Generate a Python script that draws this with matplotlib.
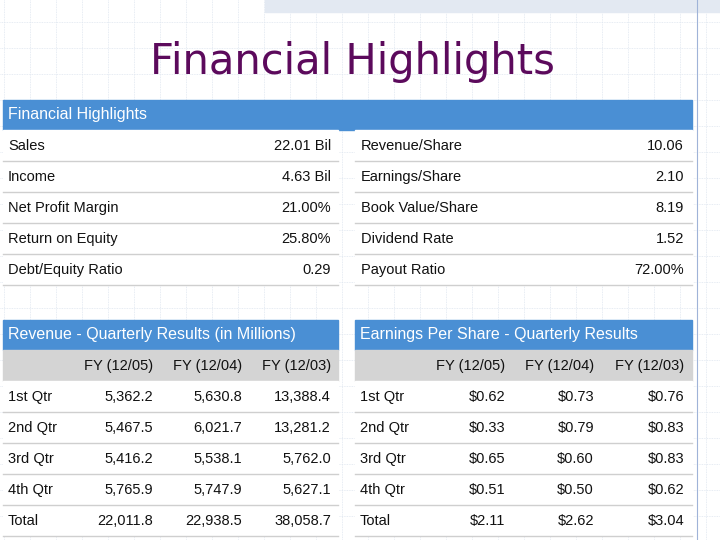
import matplotlib
matplotlib.use("Agg")
import matplotlib.pyplot as plt
from matplotlib.patches import Rectangle

highlight_left_labels = ["Sales", "Income", "Net Profit Margin", "Return on Equity", "Debt/Equity Ratio"]
highlight_left_values = ["22.01 Bil", "4.63 Bil", "21.00%", "25.80%", "0.29"]
highlight_right_labels = ["Revenue/Share", "Earnings/Share", "Book Value/Share", "Dividend Rate", "Payout Ratio"]
highlight_right_values = ["10.06", "2.10", "8.19", "1.52", "72.00%"]

fy_columns = ["FY (12/05)", "FY (12/04)", "FY (12/03)"]
quarters = ["1st Qtr", "2nd Qtr", "3rd Qtr", "4th Qtr", "Total"]
revenue = [["5,362.2", "5,630.8", "13,388.4"],
           ["5,467.5", "6,021.7", "13,281.2"],
           ["5,416.2", "5,538.1", "5,762.0"],
           ["5,765.9", "5,747.9", "5,627.1"],
           ["22,011.8", "22,938.5", "38,058.7"]]
eps = [["$0.62", "$0.73", "$0.76"],
       ["$0.33", "$0.79", "$0.83"],
       ["$0.65", "$0.60", "$0.83"],
       ["$0.51", "$0.50", "$0.62"],
       ["$2.11", "$2.62", "$3.04"]]

BLUE = "#4a8fd4"
GREY = "#d4d4d4"
LINE = "#cfcfcf"
FONT = dict(family="Liberation Sans", fontsize=10.5, color="#111111", stretch="condensed")

fig = plt.figure(figsize=(7.2, 5.4), dpi=100)
ax = fig.add_axes([0, 0, 1, 1])
ax.set_xlim(0, 720)
ax.set_ylim(540, 0)
ax.axis("off")

# background grid
for gx in range(4, 720, 26):
    ax.plot([gx, gx], [0, 540], color="#dfe6f0", lw=0.6, ls=(0, (1, 1)), zorder=0)
for gy in range(22, 540, 26):
    ax.plot([0, 720], [gy, gy], color="#dfe6f0", lw=0.6, ls=(0, (1, 1)), zorder=0)
ax.add_patch(Rectangle((265, 0), 455, 12, color="#e3e9f2", zorder=0.5))
ax.plot([697, 697], [0, 540], color="#9fb3d8", lw=0.8, zorder=0.5)

ax.text(352, 62, "Financial Highlights", ha="center", va="center",
        fontsize=30, color="#5c0a5c", family="DejaVu Sans")

def rows_block(x0, x1, y0, n, h=31):
    ax.add_patch(Rectangle((x0, y0), x1 - x0, n * h, color="white", zorder=1))
    for i in range(1, n + 1):
        y = y0 + i * h
        ax.plot([x0, x1], [y, y], color=LINE, lw=1, zorder=2)

# top table
ax.add_patch(Rectangle((3, 100), 689, 30, color=BLUE, zorder=1))
ax.text(8, 115, "Financial Highlights", ha="left", va="center", zorder=3,
        **{**FONT, "color": "white", "fontsize": 11.5})
rows_block(3, 338, 130, 5)
rows_block(355, 692, 130, 5)
for i in range(5):
    y = 146 + i * 31
    ax.text(8, y, highlight_left_labels[i], ha="left", va="center", zorder=3, **FONT)
    ax.text(331, y, highlight_left_values[i], ha="right", va="center", zorder=3, **FONT)
    ax.text(361, y, highlight_right_labels[i], ha="left", va="center", zorder=3, **FONT)
    ax.text(684, y, highlight_right_values[i], ha="right", va="center", zorder=3, **FONT)

def quarter_table(x0, x1, title, data, col_right):
    ax.add_patch(Rectangle((x0, 320), x1 - x0, 30, color=BLUE, zorder=1))
    ax.text(x0 + 5, 335, title, ha="left", va="center", zorder=3,
            **{**FONT, "color": "white", "fontsize": 11.5})
    ax.add_patch(Rectangle((x0, 350), x1 - x0, 31, color=GREY, zorder=1))
    for c, lab in enumerate(fy_columns):
        ax.text(col_right[c], 366, lab, ha="right", va="center", zorder=3, **FONT)
    rows_block(x0, x1, 381, 5)
    for r in range(5):
        y = 397 + r * 31
        ax.text(x0 + 5, y, quarters[r], ha="left", va="center", zorder=3, **FONT)
        for c in range(3):
            ax.text(col_right[c], y, data[r][c], ha="right", va="center", zorder=3, **FONT)

quarter_table(3, 338, "Revenue - Quarterly Results (in Millions)", revenue, [153, 242, 331])
quarter_table(355, 692, "Earnings Per Share - Quarterly Results", eps, [505, 594, 684])

fig.savefig("out.png", dpi=100)
